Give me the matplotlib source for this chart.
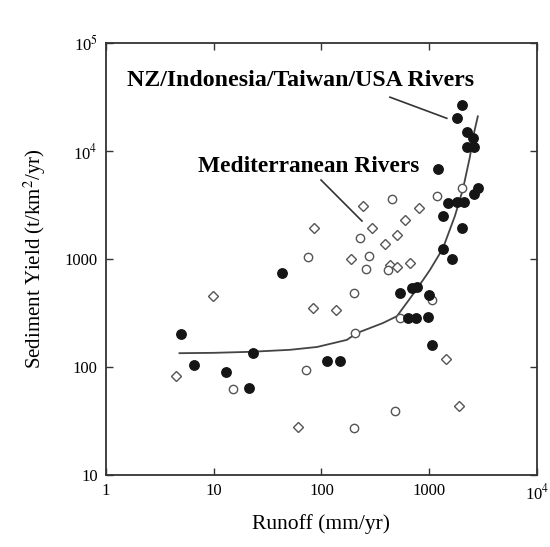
import matplotlib
matplotlib.use("Agg")
from matplotlib import pyplot as plt

# Filled points: NZ / Indonesia / Taiwan / USA rivers
dark_runoff = [5, 6.6, 13, 21, 23, 43, 112, 150, 535, 700, 770, 1000, 635, 750,
               970, 1060, 1340, 1630, 1340, 2000, 1490, 1810, 2100, 2830, 2600,
               1200, 2010, 1810, 2240, 2550, 2240, 2600]
dark_yield = [200, 105, 90, 64, 135, 740, 114, 114, 485, 540, 550, 465, 285, 285,
              290, 160, 1240, 1000, 2500, 1940, 3300, 3370, 3370, 4540, 4000,
              6800, 26700, 20200, 15000, 13200, 10900, 10900]

# Open diamonds: Mediterranean rivers
med_d_runoff = [4.5, 9.8, 60, 1890, 1430, 83, 136, 85, 243, 294, 188, 800, 600,
                500, 390, 430, 660, 500]
med_d_yield = [83, 455, 28, 43, 119, 350, 337, 1940, 3100, 1940, 1000, 2970, 2300,
               1670, 1380, 880, 920, 845]

# Open circles: Mediterranean rivers
med_c_runoff = [15, 72, 200, 480, 205, 200, 535, 1060, 75, 228, 276, 259, 450,
                1180, 415, 2010]
med_c_yield = [62, 94, 27, 39, 206, 485, 284, 417, 1040, 1560, 1070, 810, 3600,
               3830, 790, 4540]

# Trend curve
curve_runoff = [4.8, 10, 22, 51, 91, 172, 214, 372, 502, 663, 821, 1016, 1340,
                1734, 2056, 2389, 2600, 2833]
curve_yield = [134, 135, 138, 144, 153, 178, 206, 255, 295, 430, 580, 790, 1250,
               2500, 4400, 8800, 14500, 21000]

plt.rcParams["font.family"] = ["Liberation Serif", "DejaVu Serif"]
plt.rcParams["mathtext.fontset"] = "stix"

fig, ax = plt.subplots(figsize=(5.5, 5.47), dpi=100)
fig.subplots_adjust(left=0.193, right=0.976, bottom=0.132, top=0.921)

ax.plot(curve_runoff, curve_yield, color="#444444", lw=1.3, zorder=2)
ax.plot(med_d_runoff, med_d_yield, ls="none", marker="D", ms=5.3,
        mfc="white", mec="#555555", mew=1.0, zorder=3)
ax.plot(med_c_runoff, med_c_yield, ls="none", marker="o", ms=6,
        mfc="white", mec="#555555", mew=1.0, zorder=3)
ax.plot(dark_runoff, dark_yield, ls="none", marker="o", ms=6.8,
        mfc="#151515", mec="#151515", zorder=4)

ax.set_xscale("log")
ax.set_yscale("log")
ax.set_xlim(1, 1e4)
ax.set_ylim(10, 1e5)
ax.set_xticks([1, 10, 100, 1000, 1e4])
ax.set_xticklabels(["1", "10", "100", "1000", "10$^4$"])
ax.set_yticks([10, 100, 1000, 1e4, 1e5])
ax.set_yticklabels(["10", "100", "1000", "10$^4$", "10$^5$"])
ax.minorticks_off()
ax.tick_params(direction="in", length=5, width=1, top=True, right=True,
               labelsize=12, pad=6, color="#333333")
for s in ax.spines.values():
    s.set_linewidth(1.3)
    s.set_color("#333333")

ax.set_xlabel("Runoff (mm/yr)", fontsize=15.5, labelpad=8)
ax.set_ylabel("Sediment Yield (t/km$^2$/yr)", fontsize=15, labelpad=12)

ax.text(0.049, 0.914, "NZ/Indonesia/Taiwan/USA Rivers", transform=ax.transAxes,
        fontsize=17.2, fontweight="bold", va="center", ha="left")
ax.text(0.213, 0.715, "Mediterranean Rivers", transform=ax.transAxes,
        fontsize=16.8, fontweight="bold", va="center", ha="left")
ax.plot([0.659, 0.791], [0.875, 0.826], transform=ax.transAxes, color="#333333", lw=1.2)
ax.plot([0.499, 0.594], [0.683, 0.588], transform=ax.transAxes, color="#333333", lw=1.2)

fig.savefig("out.png", dpi=100)
